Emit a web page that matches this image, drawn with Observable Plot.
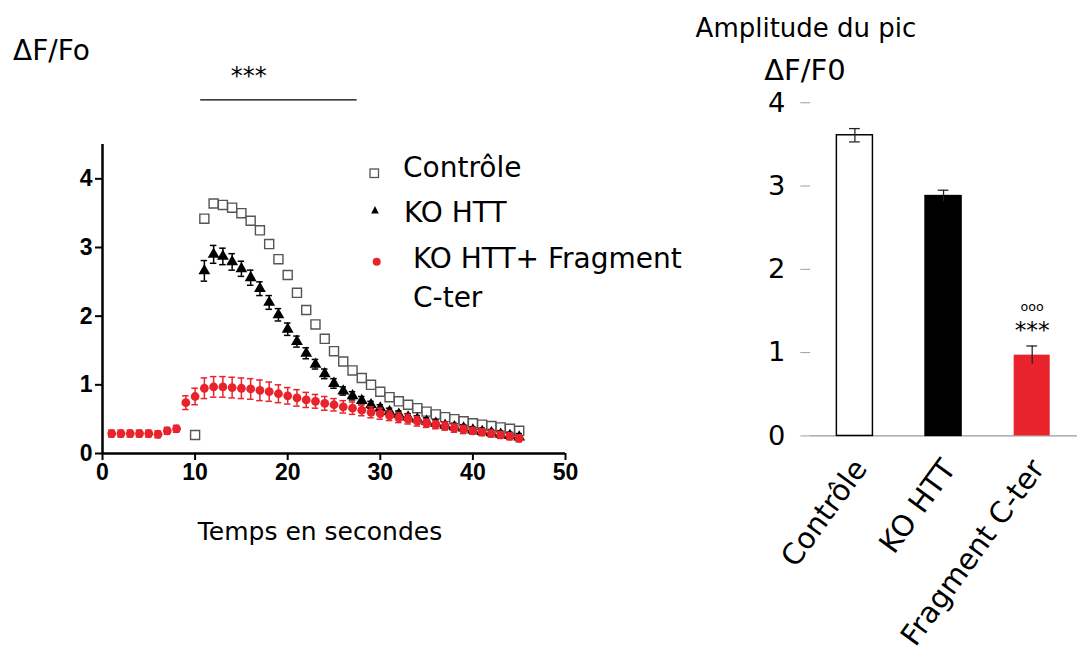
<!DOCTYPE html>
<html><head><meta charset="utf-8">
<script src="https://cdn.jsdelivr.net/npm/d3@7"></script>
<script src="https://cdn.jsdelivr.net/npm/@observablehq/plot@0.6"></script>
<style>
body{margin:0;background:#fff;}
#page{position:relative;width:1077px;height:664px;overflow:hidden;background:#fff;}
#left,#right,#overlay{position:absolute;top:0;}
#left{left:0;}
#right{left:700px;}
#overlay{left:0;pointer-events:none;}
#left svg [aria-label="x-axis tick label"] text,#left svg [aria-label="y-axis tick label"] text{font-weight:bold;}
</style></head>
<body><div id="page"><div id="left"></div><div id="right"></div>
<svg id="overlay" width="1077" height="664" font-family="DejaVu Sans, sans-serif" fill="#000">
  <text x="13" y="60" font-size="28">ΔF/Fo</text>
  <text x="320" y="540" font-size="25" text-anchor="middle">Temps en secondes</text>
  <rect x="370" y="169" width="8.5" height="8.5" fill="#fff" stroke="#555" stroke-width="1.3"></rect>
  <text x="403" y="177" font-size="28">Contrôle</text>
  <polygon points="375,206 371.2,213.5 378.8,213.5" fill="#000"></polygon>
  <text x="404" y="222" font-size="28">KO HTT</text>
  <circle cx="376.7" cy="261.7" r="4" fill="#e8232b"></circle>
  <text x="413" y="268" font-size="28">KO HTT+ Fragment</text>
  <text x="413" y="307" font-size="28">C-ter</text>
  <text x="806" y="37" font-size="26" text-anchor="middle">Amplitude du pic</text>
  <text x="805" y="80" font-size="29" text-anchor="middle">ΔF/F0</text>
</svg>
</div>
<script>
// ---- Left chart: time course ----
const xTicks = [0, 10, 20, 30, 40, 50];
const yTicksLeft = [0, 1, 2, 3, 4];

const controlTime = [10,11,12,13,14,15,16,17,18,19,20,21,22,23,24,25,26,27,28,29,30,31,32,33,34,35,36,37,38,39,40,41,42,43,44,45];
const controlValue = [0.27,3.42,3.64,3.62,3.58,3.50,3.39,3.25,3.05,2.83,2.60,2.34,2.09,1.88,1.67,1.49,1.34,1.21,1.10,1.00,0.90,0.82,0.76,0.71,0.66,0.61,0.57,0.53,0.50,0.47,0.44,0.42,0.40,0.38,0.36,0.33];
const controlErr = [0.04,0.03,0.03,0.03,0.03,0.03,0.03,0.03,0.03,0.03,0.03,0.03,0.03,0.03,0.03,0.03,0.03,0.03,0.03,0.03,0.03,0.03,0.03,0.03,0.03,0.03,0.03,0.03,0.03,0.03,0.03,0.03,0.03,0.03,0.03,0.03];

const koTime = [11,12,13,14,15,16,17,18,19,20,21,22,23,24,25,26,27,28,29,30,31,32,33,34,35,36,37,38,39,40,41,42,43,44,45];
const koValue = [2.66,2.90,2.87,2.79,2.69,2.56,2.40,2.20,2.02,1.81,1.63,1.46,1.30,1.16,1.02,0.91,0.84,0.77,0.71,0.66,0.61,0.57,0.53,0.50,0.47,0.44,0.41,0.39,0.37,0.34,0.32,0.30,0.28,0.26,0.24];
const koErr = [0.15,0.13,0.12,0.12,0.11,0.11,0.10,0.10,0.09,0.09,0.08,0.08,0.07,0.07,0.07,0.06,0.06,0.06,0.05,0.05,0.05,0.05,0.05,0.05,0.05,0.05,0.05,0.05,0.05,0.05,0.05,0.05,0.05,0.05,0.05];

const fragTime = [1,2,3,4,5,6,7,8,9,10,11,12,13,14,15,16,17,18,19,20,21,22,23,24,25,26,27,28,29,30,31,32,33,34,35,36,37,38,39,40,41,42,43,44,45];
const fragValue = [0.29,0.29,0.29,0.29,0.29,0.28,0.33,0.36,0.74,0.83,0.95,0.97,0.97,0.96,0.95,0.94,0.92,0.90,0.87,0.84,0.81,0.78,0.76,0.73,0.71,0.68,0.66,0.63,0.60,0.58,0.55,0.52,0.50,0.47,0.44,0.42,0.40,0.37,0.35,0.33,0.31,0.29,0.27,0.25,0.22];
const fragErr = [0.05,0.05,0.05,0.05,0.05,0.05,0.05,0.05,0.10,0.12,0.15,0.15,0.15,0.15,0.15,0.15,0.15,0.14,0.13,0.12,0.12,0.11,0.10,0.10,0.09,0.09,0.09,0.08,0.08,0.08,0.07,0.07,0.07,0.07,0.06,0.06,0.06,0.06,0.06,0.05,0.05,0.05,0.05,0.05,0.05];

const sigLine = [{x1: 10.6, x2: 27.5, y: 5.15}];
const sigStars = [{x: 15.8, y: 5.5, label: "***"}];

// ---- Right chart: peak amplitude ----
const categories = ["Contrôle", "KO HTT", "Fragment C-ter"];
const amplitude = [3.61, 2.88, 0.97];
const amplitudeErr = [0.08, 0.07, 0.11];
const barFill = ["#ffffff", "#000000", "#e8232b"];
const barStroke = ["#000000", "#000000", "none"];
const lowerCap = [true, false, false];
const yTicksRight = [0, 1, 2, 3, 4];
const barSig = [{cat: "Fragment C-ter", y: 1.55, label: "ooo", size: 13}, {cat: "Fragment C-ter", y: 1.27, label: "***", size: 24}];

const toRows = (T, V, E) => T.map((t, i) => ({t, v: V[i], e: E[i]}));
const control = toRows(controlTime, controlValue, controlErr);
const ko = toRows(koTime, koValue, koErr);
const frag = toRows(fragTime, fragValue, fragErr);
const capHalf = 0.35;
const red = "#e8232b";
const intFmt = d => String(d);

function errMarks(data, color, w) {
  return [
    Plot.ruleX(data, {x: "t", y1: d => d.v - d.e, y2: d => d.v + d.e, stroke: color, strokeWidth: w}),
    Plot.ruleY(data, {x1: d => d.t - capHalf, x2: d => d.t + capHalf, y: d => d.v + d.e, stroke: color, strokeWidth: w}),
    Plot.ruleY(data, {x1: d => d.t - capHalf, x2: d => d.t + capHalf, y: d => d.v - d.e, stroke: color, strokeWidth: w})
  ];
}

const leftPlot = Plot.plot({
  width: 600, height: 560,
  marginLeft: 102, marginRight: 35, marginTop: 144, marginBottom: 107,
  x: {domain: [0, 50], label: null},
  y: {domain: [0, 4.5], label: null},
  style: {fontFamily: "Liberation Sans, Arial, sans-serif", background: "transparent", overflow: "visible", color: "#000"},
  marks: [
    Plot.axisX({ticks: xTicks, tickFormat: intFmt, tickSize: 7, strokeWidth: 2, fontSize: 23, fontWeight: "bold", tickPadding: 3, label: null}),
    Plot.axisY({ticks: yTicksLeft, tickFormat: intFmt, tickSize: 7, strokeWidth: 2, fontSize: 23, fontWeight: "bold", tickPadding: 3, label: null}),
    Plot.ruleY([0], {strokeWidth: 2.5}),
    Plot.ruleX([0], {strokeWidth: 2.5}),
    Plot.ruleY(sigLine, {x1: "x1", x2: "x2", y: "y", strokeWidth: 1.2}),
    Plot.text(sigStars, {x: "x", y: "y", text: "label", fontSize: 24, fontFamily: "DejaVu Sans, sans-serif", letterSpacing: 1}),
    ...errMarks(control, "#555", 1.2),
    Plot.dot(control, {x: "t", y: "v", symbol: "square", r: 5.1, fill: "white", stroke: "#555", strokeWidth: 1.4}),
    ...errMarks(ko, "#000", 1.5),
    Plot.dot(ko, {x: "t", y: "v", symbol: "triangle", r: 4.4, fill: "#000"}),
    ...errMarks(frag, red, 1.5),
    Plot.dot(frag, {x: "t", y: "v", r: 4.4, fill: red})
  ]
});
document.getElementById("left").appendChild(leftPlot);

const bars = categories.map((cat, i) => ({cat, v: amplitude[i], e: amplitudeErr[i], fill: barFill[i], stroke: barStroke[i], lowerCap: lowerCap[i]}));

const rightPlot = Plot.plot({
  width: 387, height: 664,
  marginLeft: 113, marginRight: 0, marginTop: 105, marginBottom: 217,
  x: {domain: categories, paddingInner: 0.59, paddingOuter: 0.295, label: null},
  y: {domain: [0, 4], label: null},
  color: {type: "identity"},
  style: {fontFamily: "DejaVu Sans, sans-serif", background: "transparent", overflow: "visible", color: "#000"},
  marks: [
    Plot.axisY({ticks: yTicksRight, tickFormat: intFmt, tickSize: 10, tickPadding: 16, fontSize: 28, stroke: "#999", label: null, line: true}),
    Plot.axisX({tickSize: 0, tickPadding: 28, dx: 6, fontSize: 30, tickRotate: -54, label: null}),
    Plot.ruleY([0], {stroke: "#999", strokeWidth: 1.2}),
    Plot.barY(bars, {x: "cat", y: "v", fill: "fill", stroke: "stroke", strokeWidth: 1.5}),
    Plot.ruleX(bars, {x: "cat", y1: d => d.v - d.e, y2: d => d.v + d.e, stroke: "#222", strokeWidth: 1.3}),
    Plot.tickY(bars, {x: "cat", y: d => d.v + d.e, inset: 13, stroke: "#222", strokeWidth: 1.3}),
    Plot.tickY(bars.filter(d => d.lowerCap), {x: "cat", y: d => d.v - d.e, inset: 13, stroke: "#222", strokeWidth: 1.3}),
    Plot.text(barSig, {x: "cat", y: "y", text: "label", fontSize: "size", letterSpacing: 2})
  ]
});
document.getElementById("right").appendChild(rightPlot);
</script>
</body></html>
